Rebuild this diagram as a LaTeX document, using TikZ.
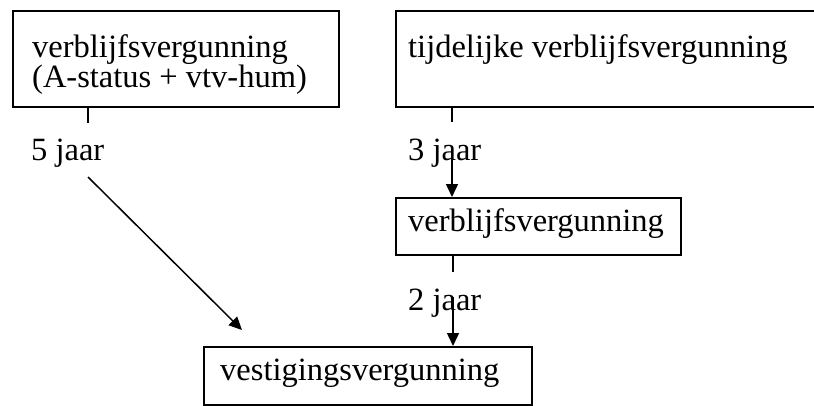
\documentclass[tikz,border=0pt]{standalone}
\usepackage{fontspec}
\setmainfont{Liberation Serif}
\usetikzlibrary{arrows.meta}
\begin{document}
\begin{tikzpicture}[x=1pt,y=-1pt,
  boxstyle/.style={draw,line width=1.6pt,rectangle,inner sep=0pt,anchor=north west},
  label/.style={anchor=base west,inner sep=0pt,font=\fontsize{32.5}{30}\selectfont},
  tick/.style={line width=1.5pt},
  arr/.style={line width=1.5pt,-{Triangle[length=13pt,width=12pt]}}]
\useasboundingbox (0,0) rectangle (814,405);
\clip (0,0) rectangle (814,405);
\fill[white] (0,0) rectangle (814,405);
% boxes
\node[boxstyle,minimum width=326pt,minimum height=96pt] (b1) at (12,10) {};
\node[boxstyle,minimum width=440pt,minimum height=96pt] (b2) at (395,10) {};
\node[boxstyle,minimum width=285pt,minimum height=57pt] (b3) at (395,197) {};
\node[boxstyle,minimum width=328pt,minimum height=58pt] (b4) at (203,346) {};
% texts
\node[label] (t1a) at (32,57) {verblijfsvergunning};
\node[label] (t1b) at (32,87) {(A-status + vtv-hum)};
\node[label] (t2) at (408,57) {tijdelijke verblijfsvergunning};
\node[label] (t3) at (408,231) {verblijfsvergunning};
\node[label] (t4) at (220,380) {vestigingsvergunning};
\node[label] (l5) at (31,160) {5 jaar};
\node[label] (l3) at (408,160) {3 jaar};
\node[label] (l2) at (408,310) {2 jaar};
% ticks
\coordinate (k1) at (88,123);
\coordinate (k2) at (452,122);
\coordinate (k3) at (453,272);
\draw[tick] (b1.south west -| k1) -- (k1);
\draw[tick] (b2.south west -| k2) -- (k2);
\draw[tick] (b3.south west -| k3) -- (k3);
% arrows
\coordinate (a1s) at (88,177);
\coordinate (a1e) at (242,330);
\draw[arr] (a1s) -- (a1e);
\coordinate (a2s) at (452,146);
\draw[arr] (a2s) -- (b3.north west -| a2s);
\coordinate (a3s) at (453,297);
\draw[arr] (a3s) -- (b4.north west -| a3s);
\end{tikzpicture}
\end{document}
